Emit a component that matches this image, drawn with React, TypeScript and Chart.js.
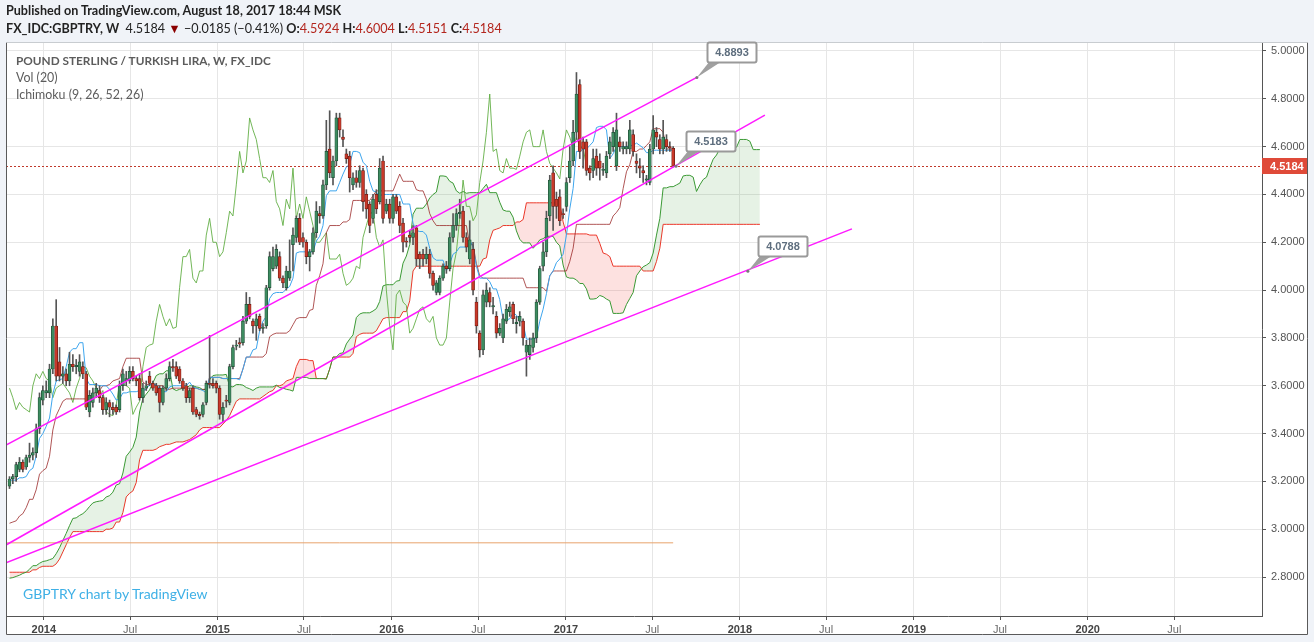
import React, { useEffect, useRef } from 'react';
import { Chart, registerables } from 'chart.js';

Chart.register(...registerables);

// ---------- data ----------
const FIRST_WEEK = '2013-10-21'; // Monday of first visible weekly bar

const opens = [
  3.18, 3.21, 3.22, 3.25, 3.28, 3.26, 3.30, 3.31, 3.32, 3.42,
  3.54, 3.57, 3.57, 3.67, 3.85, 3.70, 3.64, 3.65, 3.62, 3.69,
  3.68, 3.66, 3.68, 3.65, 3.49, 3.53, 3.57, 3.58, 3.55, 3.50,
  3.53, 3.51, 3.51, 3.50, 3.60, 3.62, 3.62, 3.66, 3.63, 3.63,
  3.55, 3.59, 3.64, 3.61, 3.60, 3.59, 3.53, 3.59, 3.63, 3.68,
  3.68, 3.67, 3.62, 3.60, 3.55, 3.59, 3.50, 3.48, 3.48, 3.53,
  3.61, 3.61, 3.61, 3.59, 3.48, 3.54, 3.53, 3.68, 3.765, 3.78,
  3.78, 3.87, 3.94, 3.87, 3.85, 3.89, 3.84, 3.85, 4.01, 4.09,
  4.10, 4.14, 4.05, 4.01, 4.05, 4.19, 4.22, 4.30, 4.22, 4.20,
  4.14, 4.16, 4.24, 4.32, 4.31, 4.44, 4.59, 4.47, 4.54, 4.72,
  4.64, 4.57, 4.56, 4.44, 4.47, 4.45, 4.50, 4.40, 4.36, 4.30,
  4.40, 4.37, 4.54, 4.33, 4.36, 4.30, 4.39, 4.35, 4.28, 4.205,
  4.23, 4.22, 4.26, 4.15, 4.15, 4.13, 4.15, 4.07, 3.99, 3.99,
  4.05, 4.10, 4.09, 4.22, 4.27, 4.32, 4.33, 4.22, 4.13, 4.17,
  3.95, 3.82, 3.75, 3.95, 3.99, 3.93, 3.89, 3.82, 3.80, 3.87,
  3.91, 3.94, 3.86, 3.87, 3.87, 3.74, 3.73, 3.76, 3.80, 3.95,
  4.10, 4.16, 4.31, 4.49, 4.38, 4.39, 4.32, 4.35, 4.47, 4.54,
  4.66, 4.86, 4.62, 4.62, 4.51, 4.50, 4.56, 4.54, 4.50, 4.49,
  4.57, 4.60, 4.52, 4.62, 4.59, 4.59, 4.59, 4.65, 4.54, 4.52,
  4.50, 4.46, 4.45, 4.59, 4.66, 4.63, 4.59, 4.63, 4.60, 4.5924,
];
const highs = [
  3.22, 3.23, 3.28, 3.30, 3.29, 3.31, 3.36, 3.34, 3.44, 3.57,
  3.60, 3.62, 3.69, 3.88, 3.96, 3.76, 3.68, 3.67, 3.74, 3.73,
  3.71, 3.73, 3.70, 3.66, 3.58, 3.59, 3.61, 3.60, 3.56, 3.55,
  3.54, 3.53, 3.52, 3.62, 3.67, 3.66, 3.68, 3.68, 3.64, 3.65,
  3.61, 3.62, 3.66, 3.62, 3.61, 3.60, 3.60, 3.65, 3.70, 3.71,
  3.70, 3.68, 3.63, 3.61, 3.59, 3.60, 3.51, 3.49, 3.53, 3.62,
  3.81, 3.63, 3.62, 3.60, 3.53, 3.56, 3.69, 3.77, 3.79, 3.80,
  3.89, 3.99, 3.97, 3.88, 3.90, 3.90, 3.86, 4.02, 4.16, 4.18,
  4.19, 4.16, 4.06, 4.10, 4.21, 4.26, 4.31, 4.32, 4.24, 4.21,
  4.17, 4.26, 4.37, 4.35, 4.46, 4.71, 4.75, 4.56, 4.74, 4.74,
  4.67, 4.59, 4.58, 4.49, 4.50, 4.52, 4.51, 4.42, 4.37, 4.40,
  4.42, 4.55, 4.56, 4.38, 4.38, 4.40, 4.40, 4.37, 4.30, 4.22,
  4.25, 4.27, 4.27, 4.16, 4.17, 4.18, 4.17, 4.08, 4.04, 4.06,
  4.11, 4.12, 4.24, 4.32, 4.34, 4.38, 4.35, 4.24, 4.29, 4.20,
  3.97, 3.83, 4.00, 4.03, 4.01, 3.97, 3.91, 3.86, 3.90, 3.94,
  3.95, 3.95, 3.89, 3.91, 3.88, 3.79, 3.80, 3.82, 3.96, 4.10,
  4.20, 4.33, 4.48, 4.52, 4.41, 4.42, 4.34, 4.47, 4.60, 4.71,
  4.91, 4.88, 4.64, 4.63, 4.52, 4.59, 4.59, 4.57, 4.53, 4.58,
  4.64, 4.68, 4.74, 4.64, 4.62, 4.62, 4.71, 4.67, 4.57, 4.55,
  4.52, 4.48, 4.61, 4.73, 4.68, 4.65, 4.71, 4.65, 4.62, 4.6004,
];
const lows = [
  3.17, 3.19, 3.20, 3.24, 3.24, 3.25, 3.28, 3.29, 3.30, 3.40,
  3.52, 3.55, 3.55, 3.65, 3.62, 3.62, 3.61, 3.60, 3.60, 3.66,
  3.65, 3.64, 3.63, 3.50, 3.47, 3.51, 3.55, 3.53, 3.48, 3.48,
  3.47, 3.48, 3.48, 3.49, 3.58, 3.60, 3.61, 3.62, 3.60, 3.54,
  3.53, 3.58, 3.60, 3.58, 3.56, 3.49, 3.52, 3.58, 3.62, 3.66,
  3.63, 3.61, 3.58, 3.53, 3.53, 3.48, 3.47, 3.46, 3.47, 3.52,
  3.59, 3.59, 3.57, 3.46, 3.45, 3.51, 3.52, 3.67, 3.75, 3.76,
  3.77, 3.86, 3.88, 3.82, 3.79, 3.83, 3.82, 3.84, 4.00, 4.08,
  4.09, 4.04, 4.01, 4.00, 4.04, 4.08, 4.20, 4.19, 4.18, 4.11,
  4.08, 4.15, 4.22, 4.28, 4.30, 4.42, 4.47, 4.44, 4.52, 4.64,
  4.60, 4.53, 4.41, 4.42, 4.43, 4.43, 4.33, 4.30, 4.24, 4.28,
  4.32, 4.36, 4.28, 4.32, 4.28, 4.28, 4.32, 4.24, 4.16, 4.18,
  4.20, 4.19, 4.10, 4.09, 4.10, 4.11, 4.05, 4.00, 3.98, 3.98,
  4.04, 4.07, 4.08, 4.20, 4.25, 4.30, 4.20, 4.16, 4.11, 3.98,
  3.82, 3.72, 3.73, 3.93, 3.93, 3.90, 3.80, 3.81, 3.78, 3.86,
  3.89, 3.86, 3.82, 3.85, 3.77, 3.64, 3.71, 3.74, 3.78, 3.94,
  4.08, 4.14, 4.29, 4.25, 4.30, 4.27, 4.30, 4.33, 4.45, 4.52,
  4.63, 4.55, 4.51, 4.48, 4.46, 4.47, 4.48, 4.46, 4.48, 4.47,
  4.55, 4.58, 4.50, 4.58, 4.57, 4.57, 4.57, 4.56, 4.49, 4.47,
  4.45, 4.44, 4.44, 4.57, 4.60, 4.57, 4.57, 4.58, 4.58, 4.5151,
];
const closes = [
  3.21, 3.22, 3.27, 3.28, 3.25, 3.30, 3.31, 3.32, 3.42, 3.55,
  3.58, 3.58, 3.67, 3.85, 3.64, 3.64, 3.65, 3.62, 3.69, 3.68,
  3.685, 3.70, 3.65, 3.51, 3.56, 3.57, 3.59, 3.55, 3.50, 3.53,
  3.51, 3.50, 3.49, 3.60, 3.65, 3.63, 3.66, 3.63, 3.62, 3.55,
  3.59, 3.60, 3.61, 3.59, 3.57, 3.53, 3.59, 3.63, 3.68, 3.675,
  3.64, 3.62, 3.59, 3.55, 3.58, 3.49, 3.48, 3.475, 3.52, 3.61,
  3.605, 3.60, 3.59, 3.48, 3.51, 3.535, 3.68, 3.76, 3.77, 3.775,
  3.87, 3.94, 3.89, 3.85, 3.88, 3.84, 3.845, 4.01, 4.14, 4.14,
  4.17, 4.05, 4.03, 4.08, 4.08, 4.23, 4.30, 4.20, 4.20, 4.14,
  4.16, 4.24, 4.33, 4.31, 4.44, 4.58, 4.49, 4.54, 4.72, 4.67,
  4.63, 4.55, 4.47, 4.47, 4.45, 4.50, 4.37, 4.34, 4.27, 4.38,
  4.34, 4.51, 4.30, 4.36, 4.30, 4.39, 4.33, 4.27, 4.20, 4.20,
  4.22, 4.24, 4.13, 4.13, 4.13, 4.15, 4.07, 4.02, 4.03, 4.05,
  4.10, 4.09, 4.22, 4.27, 4.32, 4.325, 4.22, 4.18, 4.21, 4.00,
  3.85, 3.75, 3.98, 4.00, 3.95, 3.935, 3.82, 3.84, 3.88, 3.92,
  3.93, 3.88, 3.865, 3.89, 3.80, 3.77, 3.77, 3.80, 3.95, 4.09,
  4.16, 4.30, 4.46, 4.35, 4.35, 4.29, 4.315, 4.45, 4.54, 4.66,
  4.82, 4.58, 4.59, 4.50, 4.49, 4.55, 4.51, 4.51, 4.505, 4.56,
  4.62, 4.66, 4.67, 4.60, 4.60, 4.60, 4.67, 4.58, 4.53, 4.51,
  4.49, 4.465, 4.59, 4.67, 4.64, 4.59, 4.64, 4.60, 4.595, 4.5184,
];

// weekly highs / lows before the first visible bar (off-screen, feed the Ichimoku look-back)
const preHighs = [
  2.89, 2.90, 2.91, 2.89, 2.88, 2.90, 2.89, 2.87, 2.86, 2.85,
  2.85, 2.83, 2.83, 2.84, 2.85, 2.86, 2.87, 2.87, 2.88,
  2.91, 2.93, 2.94, 2.93, 2.92, 2.91, 2.91, 2.90, 2.89,
  2.88, 2.88, 2.89, 2.90, 2.91, 2.93, 2.94, 2.93,
  2.90, 2.88, 2.85, 2.83, 2.82, 2.81, 2.79, 2.77,
  2.76, 2.77, 2.79, 2.80, 2.81, 2.81, 2.82, 2.83, 2.84,
  2.83, 2.84, 2.85, 2.87, 2.89, 2.93, 2.96, 2.95, 2.98,
  2.99, 2.97, 2.95, 2.98, 3.01, 3.05, 3.11, 3.17, 3.23,
  3.28, 3.25, 3.21, 3.23, 3.20, 3.19, 3.21,
];
const preLows = [
  2.83, 2.84, 2.85, 2.83, 2.82, 2.84, 2.83, 2.81, 2.80, 2.79,
  2.79, 2.77, 2.77, 2.78, 2.79, 2.80, 2.81, 2.81, 2.82,
  2.85, 2.87, 2.88, 2.87, 2.86, 2.85, 2.85, 2.84, 2.83,
  2.82, 2.82, 2.83, 2.84, 2.85, 2.87, 2.88, 2.87,
  2.84, 2.82, 2.79, 2.77, 2.76, 2.75, 2.73, 2.71,
  2.70, 2.71, 2.73, 2.74, 2.75, 2.75, 2.76, 2.77, 2.78,
  2.77, 2.78, 2.79, 2.81, 2.83, 2.87, 2.90, 2.89, 2.92,
  2.93, 2.91, 2.89, 2.92, 2.95, 2.99, 3.05, 3.11, 3.17,
  3.22, 3.19, 3.15, 3.17, 3.14, 3.13, 3.15,
];

const priceTicks = [2.8, 3.0, 3.2, 3.4, 3.6, 3.8, 4.0, 4.2, 4.4, 4.6, 4.8, 5.0];
const timeTickDates = [
  '2014-01-01', '2014-07-01', '2015-01-01', '2015-07-01', '2016-01-01', '2016-07-01', '2017-01-01',
  '2017-07-01', '2018-01-01', '2018-07-01', '2019-01-01', '2019-07-01', '2020-01-01', '2020-07-01',
];
const timeTickLabels = ['2014', 'Jul', '2015', 'Jul', '2016', 'Jul', '2017', 'Jul', '2018', 'Jul', '2019', 'Jul', '2020', 'Jul'];

// drawings (x in weeks from FIRST_WEEK, y in price)
const trendUpper = [{ x: -1.05, y: 3.352 }, { x: 206.1, y: 4.8893 }];
const trendMiddle = [{ x: -1.05, y: 2.934 }, { x: 226.5, y: 4.732 }];
const trendLower = [{ x: -1.05, y: 2.859 }, { x: 252.6, y: 4.256 }];
const horizontalLine = [{ x: -1.05, y: 2.943 }, { x: 199, y: 2.943 }];
const calloutLabels = ['4.8893', '4.5183', '4.0788'];
const calloutX = [206.1, 199.85, 221.4];
const calloutY = [4.8893, 4.5183, 4.0788];
const lastPrice = 4.5184;

// ---------- helpers ----------
const X_MIN = -1.05;
const X_MAX = 375.56;
const Y_MIN = 2.637;
const Y_MAX = 5.0376;

const weeksFrom = (d: string) =>
  (Date.parse(d + 'T00:00:00Z') - Date.parse(FIRST_WEEK + 'T00:00:00Z')) / (7 * 86400000);
const tickWeeks = timeTickDates.map(weeksFrom);

const allH = [...preHighs, ...highs];
const allL = [...preLows, ...lows];
const P = preHighs.length;
const midRange = (j: number, n: number) => {
  let h = -Infinity;
  let l = Infinity;
  for (let k = j - n + 1; k <= j; k++) {
    const idx = k + P;
    if (idx < 0) continue;
    h = Math.max(h, allH[idx]);
    l = Math.min(l, allL[idx]);
  }
  return (h + l) / 2;
};

const UP_FILL = '#3d8c60';
const UP_LINE = '#1f4d35';
const DOWN_FILL = '#c9392a';
const DOWN_LINE = '#6d1c13';

export default function App() {
  const ref = useRef<HTMLCanvasElement | null>(null);

  useEffect(() => {
    if (!ref.current) return;
    const n = closes.length;
    const tenkan = closes.map((_, i) => ({ x: i, y: midRange(i, 9) }));
    const kijun = closes.map((_, i) => ({ x: i, y: midRange(i, 26) }));
    const chikou = closes.slice(26).map((c, k) => ({ x: k, y: c }));
    const spanA: { x: number; y: number }[] = [];
    const spanB: { x: number; y: number }[] = [];
    for (let i = 0; i < n + 26; i++) {
      const j = i - 26;
      spanA.push({ x: i, y: (midRange(j, 9) + midRange(j, 26)) / 2 });
      spanB.push({ x: i, y: midRange(j, 52) });
    }

    const line = (data: any[], color: string, order: number, width = 1, extra: any = {}) => ({
      type: 'line',
      data,
      borderColor: color,
      borderWidth: width,
      pointRadius: 0,
      fill: false,
      tension: 0,
      order,
      ...extra,
    });

    const datasets: any[] = [
      {
        type: 'bar',
        data: opens.map((o, i) => ({ x: i, y: [o, closes[i]] })),
        backgroundColor: opens.map((o, i) => (closes[i] >= o ? UP_FILL : DOWN_FILL)),
        borderColor: opens.map((o, i) => (closes[i] >= o ? UP_LINE : DOWN_LINE)),
        borderWidth: 0.7,
        borderSkipped: false,
        barThickness: 3,
        minBarLength: 1,
        grouped: false,
        order: 1,
      },
      {
        type: 'bar',
        data: lows.map((l, i) => ({ x: i, y: [l, highs[i]] })),
        backgroundColor: '#555555',
        borderWidth: 0,
        barThickness: 1,
        grouped: false,
        order: 2,
      },
      line(tenkan, '#3ea6ee', 3),
      line(kijun, 'rgba(150,30,30,0.75)', 4),
      line(chikou, 'rgba(90,170,60,0.85)', 5),
      line(trendUpper, '#ff19ff', 0, 1.5),
      line(trendMiddle, '#ff19ff', 0, 1.5),
      line(trendLower, '#ff19ff', 0, 1.5),
      line(horizontalLine, '#e8a36c', 6, 1),
    ];
    const spanAIndex = datasets.length;
    datasets.push(
      line(spanA, '#3b9a35', 8, 1, {
        fill: { target: spanAIndex + 1, above: 'rgba(76,160,70,0.14)', below: 'rgba(244,80,70,0.17)' },
      })
    );
    datasets.push(line(spanB, '#f0362a', 9, 1));

    const framePlugin = {
      id: 'frame',
      beforeDraw(chart: any) {
        const c = chart.ctx;
        c.save();
        c.fillStyle = '#f0f3f8';
        c.fillRect(0, 0, chart.width, chart.height);
        c.fillStyle = '#ffffff';
        c.fillRect(6, 42, 1302, 593);
        c.restore();
      },
      beforeDatasetsDraw(chart: any) {
        const c = chart.ctx;
        const y = chart.scales.y.getPixelForValue(lastPrice);
        const a = chart.chartArea;
        c.save();
        c.strokeStyle = '#c0392b';
        c.lineWidth = 1;
        c.setLineDash([2, 2]);
        c.beginPath();
        c.moveTo(a.left, Math.round(y) + 0.5);
        c.lineTo(a.right, Math.round(y) + 0.5);
        c.stroke();
        c.restore();
      },
      afterDraw(chart: any) {
        const c = chart.ctx;
        const xs = chart.scales.x;
        const ys = chart.scales.y;
        c.save();
        // outer frame
        c.strokeStyle = '#5a5a5a';
        c.lineWidth = 1;
        c.beginPath();
        c.moveTo(6.5, 42.5);
        c.lineTo(6.5, 634.5);
        c.lineTo(1307.5, 634.5);
        c.lineTo(1307.5, 42.5);
        c.stroke();
        c.strokeStyle = '#c8ccd0';
        c.beginPath();
        c.moveTo(6.5, 42.5);
        c.lineTo(1307.5, 42.5);
        c.stroke();
        // last price label
        const py = Math.round(ys.getPixelForValue(lastPrice));
        c.fillStyle = '#df4a39';
        c.fillRect(1262, py - 8, 45, 16);
        c.fillStyle = '#ffffff';
        c.font = 'bold 11px "Liberation Sans"';
        c.textBaseline = 'middle';
        c.textAlign = 'left';
        c.fillText(lastPrice.toFixed(4), 1270, py + 0.5);
        // callouts
        for (let k = 0; k < calloutLabels.length; k++) {
          const ax = xs.getPixelForValue(calloutX[k]);
          const ay = ys.getPixelForValue(calloutY[k]);
          const bx = Math.round(ax + 10) + 0.5;
          const by = Math.round(ay - 35) + 0.5;
          const w = 49;
          const h = 20;
          c.fillStyle = '#a0a0a0';
          c.beginPath();
          c.moveTo(bx + 2, by + h - 1);
          c.lineTo(bx + 14, by + h - 1);
          c.lineTo(ax, ay);
          c.closePath();
          c.fill();
          c.fillStyle = '#ffffff';
          c.strokeStyle = '#9a9a9a';
          c.lineWidth = 2;
          c.beginPath();
          (c as any).roundRect(bx, by, w, h, 2);
          c.fill();
          c.stroke();
          c.fillStyle = '#7a7a7a';
          c.beginPath();
          c.arc(ax, ay, 1.5, 0, Math.PI * 2);
          c.fill();
          c.fillStyle = '#5e6e7e';
          c.font = 'bold 11px "Liberation Sans"';
          c.textAlign = 'center';
          c.textBaseline = 'middle';
          c.fillText(calloutLabels[k], bx + w / 2, by + h / 2 + 0.5);
        }
        c.restore();
      },
    };

    const chart = new Chart(ref.current, {
      type: 'line',
      data: { datasets },
      options: {
        animation: false,
        responsive: false,
        devicePixelRatio: 1,
        events: [],
        layout: { padding: { left: 6, top: 42, right: 0, bottom: 0 } },
        plugins: { legend: { display: false }, tooltip: { enabled: false } },
        scales: {
          x: {
            type: 'linear',
            min: X_MIN,
            max: X_MAX,
            offset: false,
            afterBuildTicks: (s: any) => {
              s.ticks = tickWeeks.map((v) => ({ value: v }));
            },
            afterFit: (s: any) => {
              s.height = 26;
            },
            ticks: {
              autoSkip: false,
              maxRotation: 0,
              padding: 3,
              callback: (_v: any, i: number) => timeTickLabels[i],
              font: (ctx: any) => ({
                family: '"Liberation Sans", Arial, sans-serif',
                size: 11,
                weight: ctx.index % 2 === 0 ? 'bold' : 'normal',
              }),
              color: (ctx: any) => (ctx.index % 2 === 0 ? '#444444' : '#6a6a6a'),
            },
            grid: { color: '#e6e6e6', tickColor: '#555555', tickLength: 4, lineWidth: 1, offset: false },
            border: { color: '#555555' },
          },
          y: {
            type: 'linear',
            position: 'right',
            min: Y_MIN,
            max: Y_MAX,
            afterBuildTicks: (s: any) => {
              s.ticks = priceTicks.map((v) => ({ value: v }));
            },
            afterFit: (s: any) => {
              s.width = 52;
            },
            ticks: {
              padding: 5,
              callback: (v: any) => Number(v).toFixed(4),
              font: { family: '"Liberation Sans", Arial, sans-serif', size: 11 },
              color: '#555555',
            },
            grid: { color: '#e6e6e6', tickColor: '#555555', tickLength: 4, lineWidth: 1, offset: false },
            border: { color: '#555555' },
          },
        },
      } as any,
      plugins: [framePlugin],
    } as any);
    return () => chart.destroy();
  }, []);

  const red = { color: '#b3261e' };
  return (
    <div
      style={{
        position: 'fixed',
        left: 0,
        top: 0,
        width: 1314,
        height: 642,
        background: '#f0f3f8',
        overflow: 'hidden',
      }}
    >
      <canvas ref={ref} width={1314} height={642} style={{ position: 'absolute', left: 0, top: 0 }} />
      <div
        style={{
          position: 'absolute',
          left: 6,
          top: 3,
          font: 'bold 12.6px Lato, sans-serif',
          color: '#222',
          whiteSpace: 'nowrap',
        }}
      >
        Published on TradingView.com, August 18, 2017 18:44 MSK
      </div>
      <div
        style={{
          position: 'absolute',
          left: 6,
          top: 21,
          font: '12.6px Lato, sans-serif',
          color: '#222',
          whiteSpace: 'nowrap',
        }}
      >
        <b>FX_IDC:GBPTRY, W</b>&nbsp; 4.5184 <span style={{ color: '#8b0000' }}>▼</span> −0.0185 (−0.41%){' '}
        <b>O:</b>
        <span style={red}>4.5924</span> <b>H:</b>
        <span style={red}>4.6004</span> <b>L:</b>
        <span style={red}>4.5151</span> <b>C:</b>
        <span style={red}>4.5184</span>
      </div>
      <div
        style={{
          position: 'absolute',
          left: 16,
          top: 52,
          font: 'bold 11.8px Lato, sans-serif',
          color: '#5c5c5c',
          whiteSpace: 'nowrap',
          lineHeight: '17px',
        }}
      >
        POUND STERLING / TURKISH LIRA, W, FX_IDC
        <div style={{ fontWeight: 400, fontSize: 12.4 }}>Vol (20)</div>
        <div style={{ fontWeight: 400, fontSize: 12.4 }}>Ichimoku (9, 26, 52, 26)</div>
      </div>
      <div
        style={{
          position: 'absolute',
          left: 23,
          top: 585,
          font: '14px Lato, sans-serif',
          color: '#3eb0e6',
          whiteSpace: 'nowrap',
        }}
      >
        GBPTRY chart by TradingView
      </div>
    </div>
  );
}
